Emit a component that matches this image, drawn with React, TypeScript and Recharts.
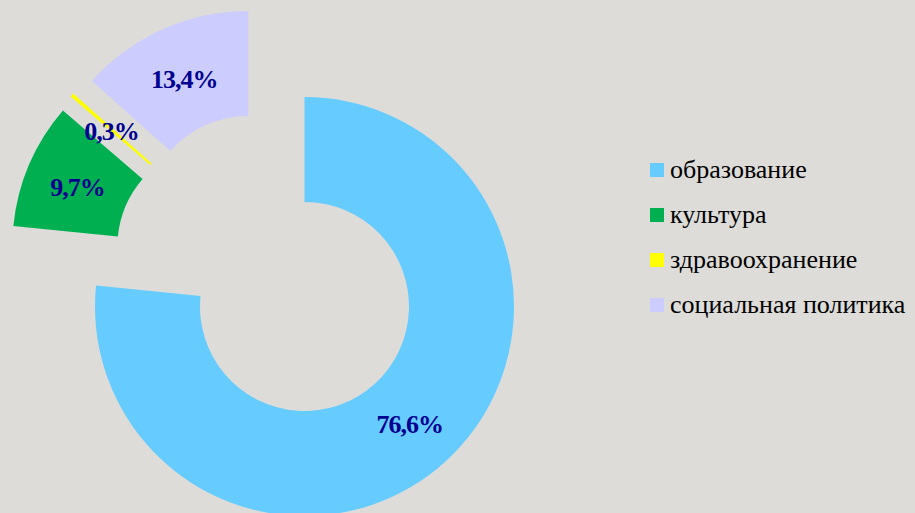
import React from 'react';
import { PieChart, Pie, Cell, Sector, Legend } from 'recharts';

const categories = ['образование', 'культура', 'здравоохранение', 'социальная политика'];
const shares = [76.6, 9.7, 0.3, 13.4];

const colors = ['#66CCFF', '#00B050', '#FFFF00', '#CCCCFF'];
// explosion offsets (px) of each slice, a style setting
const explode: [number, number][] = [
  [0, 0],
  [-82.7, -59.5],
  [-75, -73.5],
  [-56.2, -86],
];

const data = categories.map((name, i) => ({ name, value: shares[i] }));

const fmt = (v: number) => v.toFixed(1).replace('.', ',') + '%';

const SERIF = '"Liberation Serif", "Times New Roman", serif';

const renderSector = (p: any) => {
  const i = p.index;
  const [dx, dy] = explode[i];
  return (
    <Sector
      key={'s' + i}
      cx={p.cx + dx}
      cy={p.cy + dy}
      innerRadius={p.innerRadius}
      outerRadius={p.outerRadius}
      startAngle={p.startAngle}
      endAngle={p.endAngle}
      fill={colors[i]}
      stroke="none"
    />
  );
};

const RAD = Math.PI / 180;
const renderText = (p: any) => {
  const i = p.index;
  const [dx, dy] = explode[i];
  const r = (p.innerRadius + p.outerRadius) / 2;
  const x = p.cx + dx + r * Math.cos(-p.midAngle * RAD);
  const y = p.cy + dy + r * Math.sin(-p.midAngle * RAD);
  return (
    <text
      key={'t' + i}
      x={x}
      y={y + 2}
      textAnchor="middle"
      dominantBaseline="central"
      fill="#000090"
      fontFamily={SERIF}
      fontWeight="bold"
      fontSize={26}
      letterSpacing={-1}
    >
      {fmt(shares[i])}
    </text>
  );
};

const renderLegend = () => (
  <div style={{ fontFamily: SERIF, fontSize: 26, color: '#000' }}>
    {categories.map((c, i) => (
      <div key={c} style={{ display: 'flex', alignItems: 'center', height: 45, whiteSpace: 'nowrap' }}>
        <span style={{ display: 'inline-block', width: 14, height: 14, background: colors[i], marginRight: 6, flex: 'none' }} />
        <span style={{ fontFamily: SERIF, lineHeight: '26px' }}>{c}</span>
      </div>
    ))}
  </div>
);

export default function App() {
  return (
    <div
      style={{
        position: 'fixed',
        left: 0,
        top: 0,
        width: 915,
        height: 513,
        background: '#dddcd8',
        overflow: 'hidden',
      }}
    >
      <PieChart width={915} height={513} margin={{ top: 0, right: 0, bottom: 0, left: 0 }}>
        <Pie
          data={data}
          dataKey="value"
          nameKey="name"
          cx={304.5}
          cy={306.5}
          innerRadius={104.5}
          outerRadius={209.5}
          startAngle={90}
          endAngle={-270}
          stroke="none"
          isAnimationActive={false}
          label={renderSector}
          labelLine={false}
        >
          {data.map((d) => (
            <Cell key={d.name} fill="transparent" />
          ))}
        </Pie>
        <Pie
          data={data}
          dataKey="value"
          nameKey="name"
          cx={304.5}
          cy={306.5}
          innerRadius={104.5}
          outerRadius={209.5}
          startAngle={90}
          endAngle={-270}
          stroke="none"
          isAnimationActive={false}
          label={renderText}
          labelLine={false}
          legendType="none"
        >
          {data.map((d) => (
            <Cell key={d.name} fill="transparent" />
          ))}
        </Pie>
        <Legend
          content={renderLegend}
          wrapperStyle={{ position: 'absolute', left: 650, top: 147, width: 265 }}
        />
      </PieChart>
    </div>
  );
}
